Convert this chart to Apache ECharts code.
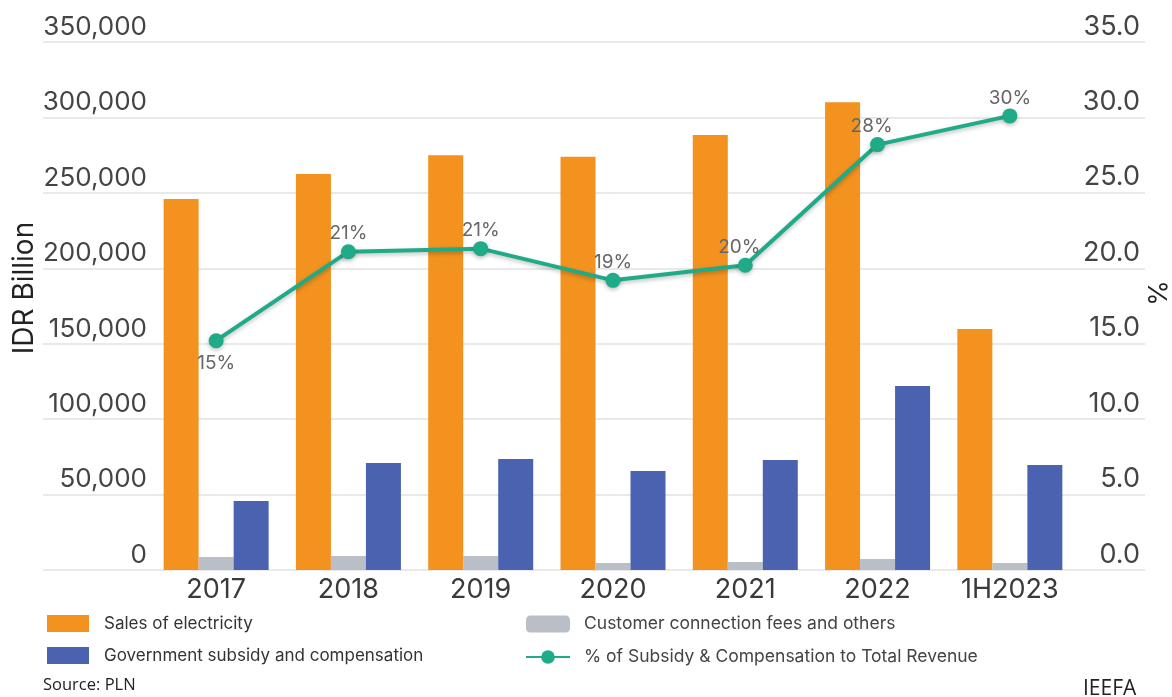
<!DOCTYPE html>
<html>
<head>
<meta charset="utf-8">
<script src="https://cdn.jsdelivr.net/npm/echarts@6/dist/echarts.min.js"></script>
<style>
  html, body { margin: 0; padding: 0; background: #fff; }
  #chart { width: 1172px; height: 697px; }
</style>
</head>
<body>
<div id="chart"></div>
<script>
// PLN revenue breakdown (IDR billion) and subsidy share (%)
const categories = ['2017', '2018', '2019', '2020', '2021', '2022', '1H2023'];
const salesOfElectricity = [246000, 262500, 275000, 274000, 288300, 310000, 159700];
const customerFees = [8600, 9300, 9300, 4600, 5300, 7300, 4600];
const govSubsidy = [45700, 70900, 73600, 65600, 72900, 122000, 69600];
const subsidySharePct = [15.2, 21.1, 21.3, 19.2, 20.2, 28.2, 30.1];
const leftTicks = { min: 0, max: 350000, interval: 50000 };
const rightTicks = { min: 0, max: 35, interval: 5 };

const FONT = 'Inter, "Noto Sans", "Liberation Sans", sans-serif';
const NOTE_FONT = '"Open Sans", "Noto Sans", sans-serif';
const ORANGE = '#F3921F';
const GRAY = '#BABEC6';
const BLUE = '#4A62AF';
const GREEN = '#1FAA88';

const chart = echarts.init(document.getElementById('chart'));

const lineData = subsidySharePct.map((v, i) => {
  const item = { value: v };
  if (i === 0) item.label = { position: 'bottom', distance: 6 };
  if (i === 4 || i === 5) item.label = { offset: [-6, 0] };
  return item;
});

chart.setOption({
  animation: false,
  textStyle: { fontFamily: FONT },
  grid: [
    // plot area for the marks
    { left: 150, right: 96, top: 42, bottom: 127 },
    // full-width frame carrying the gridlines and tick labels
    { left: 43, right: 27, top: 42, bottom: 127 }
  ],
  xAxis: [
    {
      type: 'category', gridIndex: 0, data: categories,
      axisLine: { show: false }, axisTick: { show: false },
      axisLabel: { fontSize: 27, color: '#3a3a3a', margin: 6, fontFamily: FONT }
    },
    { type: 'value', gridIndex: 1, show: false, min: 0, max: 1 }
  ],
  yAxis: [
    { type: 'value', gridIndex: 0, show: false, ...leftTicks },
    { type: 'value', gridIndex: 0, show: false, ...rightTicks },
    {
      type: 'value', gridIndex: 1, position: 'left', ...leftTicks,
      axisLine: { show: false }, axisTick: { show: false },
      splitLine: { show: true, lineStyle: { color: '#e2e2e2', width: 1.5 } },
      axisLabel: {
        inside: true, margin: 104, align: 'right', verticalAlign: 'bottom',
        padding: [0, 0, 2, 0], fontSize: 26, color: '#444', fontFamily: FONT,
        formatter: v => v.toLocaleString('en-US')
      }
    },
    {
      type: 'value', gridIndex: 1, position: 'right', ...rightTicks,
      axisLine: { show: false }, axisTick: { show: false },
      splitLine: { show: false },
      axisLabel: {
        inside: true, margin: 5, align: 'right', verticalAlign: 'bottom',
        padding: [0, 0, 2, 0], fontSize: 27, color: '#444', fontFamily: FONT,
        formatter: v => v.toFixed(1)
      }
    }
  ],
  legend: [
    {
      data: ['Sales of electricity', 'Government subsidy and compensation'],
      orient: 'vertical', left: 47, top: 615, padding: 0,
      itemWidth: 42, itemHeight: 17, itemGap: 15, icon: 'rect',
      textStyle: { fontSize: 17, color: '#333', fontFamily: FONT, padding: [0, 0, 0, 10] }
    },
    {
      data: ['Customer connection fees and others', '% of Subsidy & Compensation to Total Revenue'],
      orient: 'vertical', left: 525, top: 615, padding: 0,
      itemWidth: 44, itemHeight: 17, itemGap: 15,
      textStyle: { fontSize: 17.5, color: '#444', fontFamily: FONT, padding: [0, 0, 0, 9] }
    }
  ],
  series: [
    {
      name: 'Sales of electricity', type: 'bar', xAxisIndex: 0, yAxisIndex: 0,
      data: salesOfElectricity, barWidth: 35, barGap: '0%', itemStyle: { color: ORANGE }
    },
    {
      name: 'Customer connection fees and others', type: 'bar', xAxisIndex: 0, yAxisIndex: 0,
      data: customerFees, barWidth: 35, barGap: '0%', itemStyle: { color: GRAY }
    },
    {
      name: 'Government subsidy and compensation', type: 'bar', xAxisIndex: 0, yAxisIndex: 0,
      data: govSubsidy, barWidth: 35, barGap: '0%', itemStyle: { color: BLUE }
    },
    {
      name: '% of Subsidy & Compensation to Total Revenue', type: 'line',
      xAxisIndex: 0, yAxisIndex: 1, data: lineData, z: 5,
      symbol: 'circle', symbolSize: 15,
      lineStyle: { color: GREEN, width: 4, shadowColor: 'rgba(0,0,0,0.25)', shadowBlur: 4, shadowOffsetY: 2 },
      itemStyle: { color: GREEN, shadowColor: 'rgba(0,0,0,0.25)', shadowBlur: 4, shadowOffsetY: 2 },
      label: {
        show: true, position: 'top', distance: 1, fontSize: 19, color: '#666',
        fontFamily: FONT, formatter: p => Math.round(p.value) + '%'
      }
    }
  ],
  graphic: [
    {
      type: 'text', x: 25, y: 288, rotation: Math.PI / 2,
      style: { text: 'IDR Billion', fontSize: 28, fill: '#222', fontFamily: FONT, align: 'center', verticalAlign: 'middle' }
    },
    {
      type: 'text', x: 1159, y: 293, rotation: Math.PI / 2,
      style: { text: '%', fontSize: 26, fill: '#222', fontFamily: FONT, align: 'center', verticalAlign: 'middle' }
    },
    {
      type: 'text', left: 43, top: 677,
      style: { text: 'Source: PLN', fontSize: 16.5, fill: '#222', fontFamily: NOTE_FONT }
    },
    {
      type: 'text', left: 1083, top: 679,
      style: { text: 'IEEFA', fontSize: 21, fill: '#222', fontFamily: NOTE_FONT }
    }
  ]
});
</script>
</body>
</html>
